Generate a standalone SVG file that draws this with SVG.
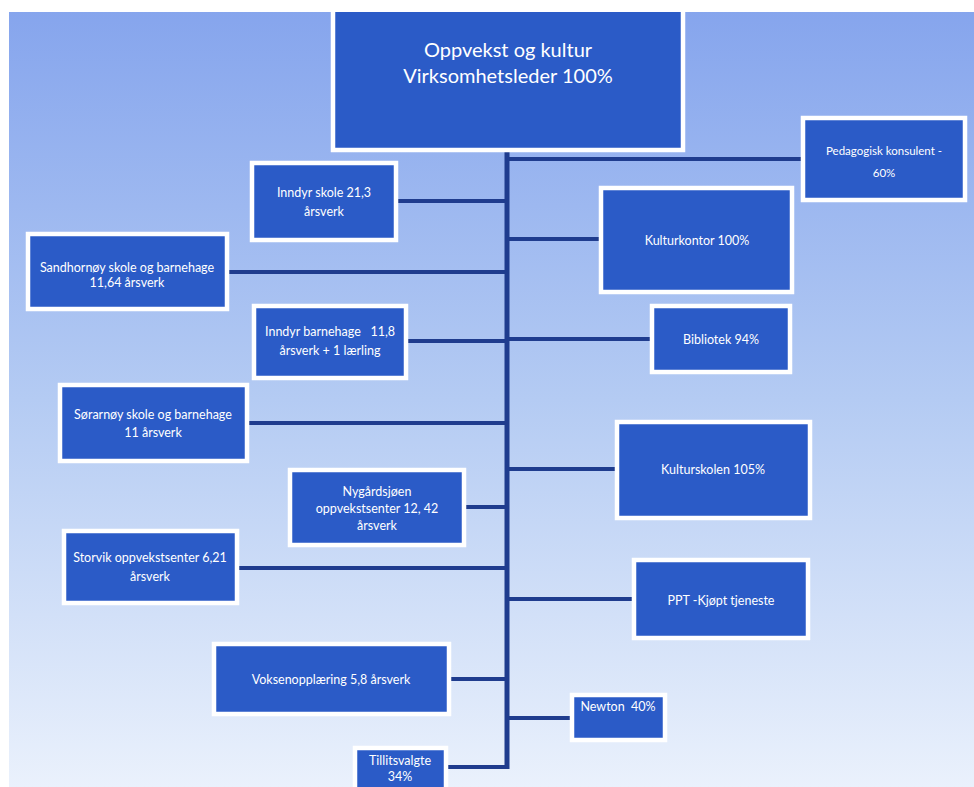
<svg xmlns="http://www.w3.org/2000/svg" width="974" height="787" viewBox="0 0 974 787">
<defs>
<linearGradient id="bg" x1="0" y1="0" x2="0" y2="1">
<stop offset="0" stop-color="#86a5ed"/>
<stop offset="0.5" stop-color="#b4cbf3"/>
<stop offset="1" stop-color="#eaf1fc"/>
</linearGradient>
<style>
.box{fill:#2b5bc7;stroke:#ffffff;stroke-width:4.5}
.t{fill:#ffffff;font-family:Lato,"Open Sans",sans-serif;font-size:12.5px;text-anchor:middle}
.big{font-size:20px}
.c{stroke:#1f3c8e;stroke-width:4;fill:none}
.page{fill:#ffffff}
</style>
</defs>
<rect x="0" y="0" width="974" height="787" fill="#ffffff"/>
<rect x="9" y="12" width="965" height="775" fill="url(#bg)"/>
<g id="connectors">
<line class="c" x1="507" y1="150" x2="507" y2="769" style="stroke-width:5"/>
<line class="c" x1="507" y1="159" x2="802" y2="159"/>
<line class="c" x1="398" y1="201" x2="507" y2="201"/>
<line class="c" x1="229" y1="272" x2="507" y2="272"/>
<line class="c" x1="507" y1="239" x2="600" y2="239"/>
<line class="c" x1="408" y1="341" x2="507" y2="341"/>
<line class="c" x1="507" y1="339" x2="651" y2="339"/>
<line class="c" x1="249" y1="423" x2="507" y2="423"/>
<line class="c" x1="507" y1="469" x2="616" y2="469"/>
<line class="c" x1="466" y1="507" x2="507" y2="507"/>
<line class="c" x1="239" y1="568" x2="507" y2="568"/>
<line class="c" x1="507" y1="599" x2="633" y2="599"/>
<line class="c" x1="451" y1="679" x2="507" y2="679"/>
<line class="c" x1="507" y1="718" x2="571" y2="718"/>
<line class="c" x1="448" y1="767" x2="507" y2="767"/>
</g>
<g id="top">
<rect class="box" x="333" y="-10" width="350" height="160"/>
<text class="t big" x="508" y="57">Oppvekst og kultur</text>
<text class="t big" x="508" y="83">Virksomhetsleder 100%</text>
</g>
<g id="pedagogisk">
<rect class="box" x="803" y="118" width="162" height="82"/>
<text class="t" x="884" y="155" style="font-size:11.5px">Pedagogisk konsulent -</text>
<text class="t" x="884" y="177" style="font-size:11.5px">60%</text>
</g>
<g id="inndyr-skole">
<rect class="box" x="252" y="163" width="144" height="77"/>
<text class="t" x="324" y="197">Inndyr skole 21,3</text>
<text class="t" x="324" y="216">årsverk</text>
</g>
<g id="sandhornoy">
<rect class="box" x="28" y="234" width="199" height="75"/>
<text class="t" x="127" y="272">Sandhornøy skole og barnehage</text>
<text class="t" x="127" y="287">11,64 årsverk</text>
</g>
<g id="kulturkontor">
<rect class="box" x="601" y="188" width="191" height="104"/>
<text class="t" x="697" y="245">Kulturkontor 100%</text>
</g>
<g id="inndyr-barnehage">
<rect class="box" x="254" y="306" width="152" height="72"/>
<text class="t" x="330" y="336" xml:space="preserve">Inndyr barnehage   11,8</text>
<text class="t" x="330" y="355">årsverk + 1 lærling</text>
</g>
<g id="bibliotek">
<rect class="box" x="652" y="306" width="138" height="66"/>
<text class="t" x="721" y="344">Bibliotek 94%</text>
</g>
<g id="sorarnoy">
<rect class="box" x="60" y="385" width="187" height="76"/>
<text class="t" x="153" y="419">Sørarnøy skole og barnehage</text>
<text class="t" x="153" y="437">11 årsverk</text>
</g>
<g id="kulturskolen">
<rect class="box" x="617" y="422" width="193" height="96"/>
<text class="t" x="713" y="474">Kulturskolen 105%</text>
</g>
<g id="nygardsjoen">
<rect class="box" x="290" y="470" width="174" height="75"/>
<text class="t" x="377" y="496">Nygårdsjøen</text>
<text class="t" x="377" y="513">oppvekstsenter 12, 42</text>
<text class="t" x="377" y="530">årsverk</text>
</g>
<g id="storvik">
<rect class="box" x="64" y="531" width="173" height="72"/>
<text class="t" x="150" y="562">Storvik oppvekstsenter 6,21</text>
<text class="t" x="150" y="581">årsverk</text>
</g>
<g id="ppt">
<rect class="box" x="634" y="560" width="174" height="78"/>
<text class="t" x="721" y="605">PPT -Kjøpt tjeneste</text>
</g>
<g id="voksenopplaering">
<rect class="box" x="214" y="644" width="235" height="70"/>
<text class="t" x="331" y="684">Voksenopplæring 5,8 årsverk</text>
</g>
<g id="newton">
<rect class="box" x="572" y="695" width="93" height="45"/>
<text class="t" x="618" y="711" xml:space="preserve">Newton  40%</text>
</g>
<g id="tillitsvalgte">
<rect class="box" x="355" y="748" width="91" height="46"/>
<text class="t" x="400" y="765">Tillitsvalgte</text>
<text class="t" x="400" y="781">34%</text>
</g>
<rect class="page" x="0" y="0" width="974" height="12"/>
<rect class="page" x="0" y="0" width="9" height="787"/>
</svg>
